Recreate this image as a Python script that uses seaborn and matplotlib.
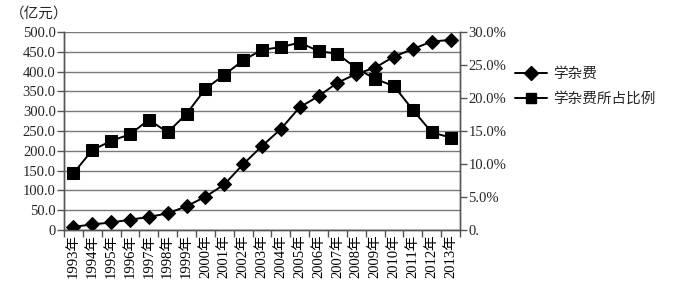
import matplotlib
matplotlib.use("Agg")
import matplotlib.pyplot as plt
import seaborn as sns
import pandas as pd
import numpy as np
from matplotlib.lines import Line2D

years = ["1993年", "1994年", "1995年", "1996年", "1997年", "1998年", "1999年",
         "2000年", "2001年", "2002年", "2003年", "2004年", "2005年", "2006年",
         "2007年", "2008年", "2009年", "2010年", "2011年", "2012年", "2013年"]
fees = [8, 14, 19, 26, 33, 42, 60, 84, 115, 166, 212, 255, 310, 338, 372,
        394, 410, 438, 457, 476, 480]
share = [8.6, 12.1, 13.5, 14.5, 16.7, 14.8, 17.6, 21.4, 23.5, 25.7, 27.3,
         27.7, 28.4, 27.1, 26.7, 24.5, 22.9, 21.8, 18.2, 14.8, 14.0]
left_ticks = [0, 50, 100, 150, 200, 250, 300, 350, 400, 450, 500]
left_labels = ["0", "50.0", "100.0", "150.0", "200.0", "250.0", "300.0",
               "350.0", "400.0", "450.0", "500.0"]
right_ticks = [0, 5, 10, 15, 20, 25, 30]
right_labels = ["0.", "5.0%", "10.0%", "15.0%", "20.0%", "25.0%", "30.0%"]
series_names = ["学杂费", "学杂费所占比例"]
unit_label = "（亿元）"

sns.set_theme(style="white")
plt.rcParams["font.family"] = ["Liberation Serif", "Noto Sans CJK SC"]

df = pd.DataFrame({"idx": np.arange(len(years)), "fees": fees, "share": share})

fig = plt.figure(figsize=(6.77, 2.92), dpi=100)
ax = fig.add_axes([64 / 677, 1 - 230 / 292, (460 - 64) / 677, (230 - 32) / 292])
ax2 = ax.twinx()

sns.lineplot(data=df, x="idx", y="fees", ax=ax, color="black", marker="D",
             markersize=7, linewidth=1.4, markeredgecolor="black", zorder=3)
sns.lineplot(data=df, x="idx", y="share", ax=ax2, color="black", marker="s",
             markersize=8.5, linewidth=1.4, markeredgecolor="black", zorder=3)

ax.set_xlim(-0.5, len(years) - 0.5)
ax.set_ylim(0, 500)
ax2.set_ylim(0, 30)
ax.set_yticks(left_ticks, left_labels)
ax2.set_yticks(right_ticks, right_labels)
ax.grid(axis="y", color="#7a7a7a", linewidth=1.0)
ax.grid(axis="x", visible=False)
ax2.grid(False)

bounds = np.arange(len(years) + 1) - 0.5
ax.set_xticks(bounds, [""] * len(bounds))
ax.set_xticks(np.arange(len(years)), years, minor=True)
ax.tick_params(axis="x", which="major", direction="out", length=5, width=1,
               color="#555555", bottom=True)
ax.tick_params(axis="x", which="minor", length=0, labelsize=10.5,
               labelrotation=90, pad=3, colors="black")
for lbl in ax.get_xticklabels(minor=True):
    lbl.set_family(["Liberation Serif", "Noto Sans CJK SC"])
ax.tick_params(axis="y", direction="out", length=5, width=1, color="#555555",
               labelsize=10.5, pad=1, left=True)
ax2.tick_params(axis="y", direction="out", length=5, width=1, color="#555555",
                labelsize=10.5, pad=1, right=True)
ax.set_xlabel("")
ax.set_ylabel("")
ax2.set_ylabel("")

for a in (ax, ax2):
    a.spines["top"].set_visible(False)
    for s in ("left", "right", "bottom"):
        a.spines[s].set_color("#555555")
        a.spines[s].set_linewidth(1.0)

fig.text(39 / 677, 1 - 14 / 292, unit_label, ha="center", va="center",
         fontsize=10.5, family=["Noto Sans CJK SC"])

handles = [Line2D([], [], color="black", marker="D", markersize=7, linewidth=1.4),
           Line2D([], [], color="black", marker="s", markersize=7, linewidth=1.4)]
fig.legend(handles, series_names, loc="upper left",
           bbox_to_anchor=(502 / 677, 1 - 54 / 292), frameon=False,
           handlelength=2.2, handletextpad=0.4,
           labelspacing=0.75, prop={"family": "Noto Sans CJK SC", "size": 10.5})

fig.savefig("out.png", dpi=100)
